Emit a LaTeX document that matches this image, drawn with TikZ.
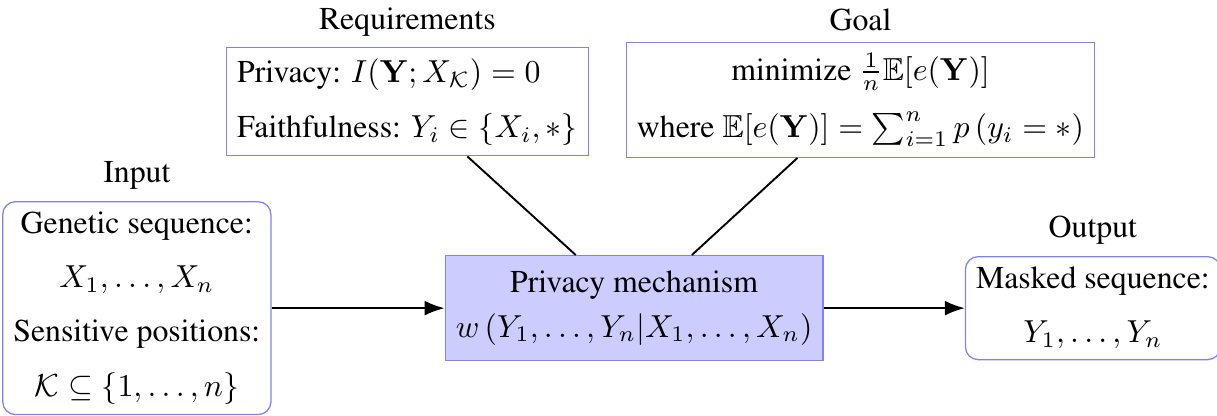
\documentclass[tikz,border=0pt]{standalone}
\usepackage[T1]{fontenc}
\usepackage{times}
\usepackage{amsmath,amssymb}
\usepackage{xcolor}
\usepackage{tikz}
\usetikzlibrary{shapes.geometric, arrows, arrows.meta, positioning}
\tikzstyle{inout} = [rectangle, rounded corners, align=center, draw=blue!50, fill=white]
\tikzstyle{spec} = [rectangle, draw=blue!50, fill=white]
\tikzstyle{mechbox} = [rectangle, align=center, draw=blue!50, fill=blue!20, minimum width=115pt, minimum height=33pt]
\tikzstyle{arrow} = [semithick,->,>={Latex[length=6.3pt,width=4.7pt]}]
\tikzstyle{link} = [semithick]

\begin{document}
\begin{tikzpicture}
    \useasboundingbox (-199.4pt,-33.9pt) rectangle (183.3pt,96.9pt);
    \node (mech) [mechbox] {Privacy mechanism\\[2pt] $w\left(Y_1,\dots,Y_n|X_1,\dots,X_n\right)$};
    \node (input) [inout, left=54.4pt of mech, label=above:{Input}] {Genetic sequence:\\[5pt] $X_1,\dots,X_n$\\[5pt] Sensitive positions:\\[5pt] $\mathcal{K}\subseteq\{1,\dots,n\}$};
    \node (output) [inout, right=44.4pt of mech, label=above:{Output}] {Masked sequence:\\[5pt] $Y_1,\dots,Y_n$};
    \node (req) [spec, align=left, above=31pt of mech, xshift=-71.3pt, label=above:{Requirements}] {Privacy: $I(\mathbf{Y};X_{\mathcal{K}})=0$\\[5.3pt] Faithfulness: $Y_i\in\{X_i,*\}$};
    \node (goal) [spec, align=center, above=30.5pt of mech, xshift=71.2pt, label=above:{Goal}] {minimize $\frac{1}{n}\mathbb{E}[e(\mathbf{Y})]$\\[6pt] where $\mathbb{E}[e(\mathbf{Y})]=\sum_{i=1}^{n}p\left(y_i=*\right)$};

    \draw [arrow] (input) -- (mech);
    \draw [arrow] (mech) -- (output);
    \draw [link] (req) -- (mech);
    \draw [link] (goal) -- (mech);
\end{tikzpicture}
\end{document}
